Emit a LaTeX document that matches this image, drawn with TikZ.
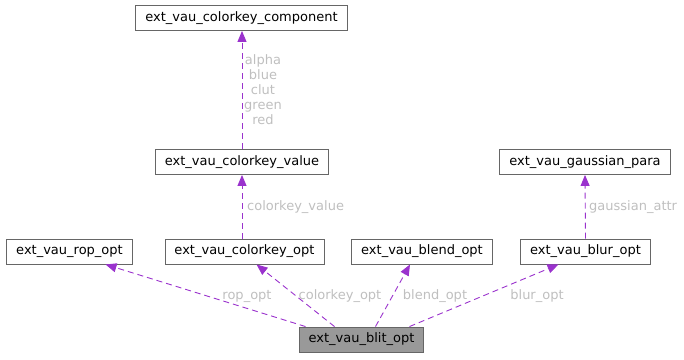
\documentclass[tikz,border=0pt]{standalone}
\usepackage{fontspec}
\setmainfont{DejaVu Sans}
\usepackage{xcolor}
\usetikzlibrary{arrows.meta, positioning, calc}

\definecolor{edgepurple}{HTML}{9A32CD}
\definecolor{lblgray}{HTML}{BFBFBF}
\definecolor{rootfill}{HTML}{999999}
\definecolor{boxline}{HTML}{666666}

\begin{document}
\begin{tikzpicture}[
    x=1pt, y=-1pt,
    font=\fontsize{13}{15}\selectfont,
    every node/.style={inner sep=2pt},
    cls/.style={draw=boxline, line width=0.9pt, fill=white, minimum height=25pt,
                inner xsep=9.5pt, align=center},
    root/.style={cls, fill=rootfill},
    member/.style={-{Triangle[length=11pt, width=9pt]}, edgepurple, line width=0.9pt,
                   dash pattern=on 6pt off 4pt},
    edgelbl/.style={text=lblgray, inner sep=1pt},
]
\useasboundingbox (0,0) rectangle (684,359);

% --------- top chain ----------
\node[cls]  (comp)   at (241.5, 18)   {ext\_vau\_colorkey\_component};
\node[cls]  (ckval)  at (242, 162)    {ext\_vau\_colorkey\_value};
\node[cls]  (gauss)  at (585, 162)    {ext\_vau\_gaussian\_para};

% --------- member row ----------
\node[cls]  (rop)    at (69.5, 251.5)  {ext\_vau\_rop\_opt};
\node[cls]  (ckopt)  at (244.5, 251.5) {ext\_vau\_colorkey\_opt};
\node[cls]  (blend)  at (422, 251.5)   {ext\_vau\_blend\_opt};
\node[cls]  (blur)   at (585.5, 251.5) {ext\_vau\_blur\_opt};

% --------- root ----------
\node[root] (blit)   at (361.5, 339.5) {ext\_vau\_blit\_opt};

% blit members
\draw[member] ($(blit.north)+(-56,0)$) -- ($(rop.south)+(36,0)$);
\draw[member] ($(blit.north)+(-27,0)$) -- ($(ckopt.south)+(12,0)$);
\draw[member] ($(blit.north)+(14,0)$)  -- ($(blend.south)+(-12,0)$);
\draw[member] ($(blit.north)+(48,0)$)  -- ($(blur.south)+(-27,0)$);

\node[edgelbl] (lrop)   at (247, 296) {rop\_opt};
\node[edgelbl] (lckopt) at (340, 296) {colorkey\_opt};
\node[edgelbl] (lblend) at (435, 296) {blend\_opt};
\node[edgelbl] (lblur)  at (537, 296) {blur\_opt};

% nested members
\draw[member] ($(ckopt.north)+(-2.5,0)$) -- (ckval.south);
\node[edgelbl, anchor=west] (lckval) at (246, 207) {colorkey\_value};

\draw[member] (ckval.north) -- ($(comp.south)+(0.5,0)$);
\node[edgelbl, align=center] (lcomp) at (263, 90)
     {alpha\\blue\\clut\\green\\red};

\draw[member] (blur.north) -- (gauss.south);
\node[edgelbl, anchor=west] (lgauss) at (588, 207) {gaussian\_attr};

\end{tikzpicture}
\end{document}
